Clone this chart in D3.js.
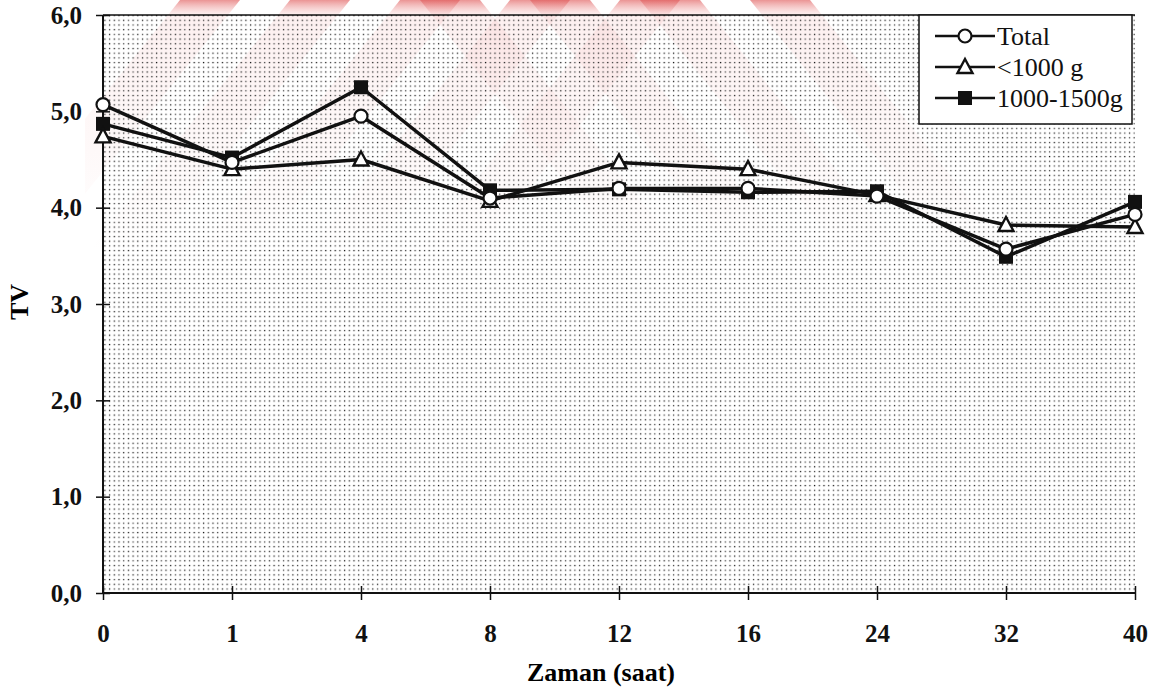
<!DOCTYPE html>
<html>
<head>
<meta charset="utf-8">
<script src="https://cdn.jsdelivr.net/npm/d3@7.9.0/dist/d3.min.js"></script>
<style>
  html, body { margin: 0; padding: 0; background: #fff; }
  svg { display: block; }
  text { font-family: "Liberation Serif", "Times New Roman", serif; }
</style>
</head>
<body>
<svg id="chart" width="1165" height="693"></svg>
<script>
// ── Data ──────────────────────────────────────────────────────────────────
const hours = ['0', '1', '4', '8', '12', '16', '24', '32', '40'];
const total = [5.07, 4.47, 4.95, 4.10, 4.20, 4.20, 4.12, 3.57, 3.93];
const under1000 = [4.74, 4.40, 4.50, 4.07, 4.47, 4.40, 4.13, 3.82, 3.80];
const g1000to1500 = [4.87, 4.52, 5.25, 4.18, 4.19, 4.16, 4.17, 3.49, 4.06];
const yTicks = [0, 1, 2, 3, 4, 5, 6];

const series = [
  { name: '1000-1500g', values: g1000to1500, marker: 'square' },
  { name: '<1000 g', values: under1000, marker: 'triangle' },
  { name: 'Total', values: total, marker: 'circle' },
];
const legendOrder = ['Total', '<1000 g', '1000-1500g'];

// ── Layout ────────────────────────────────────────────────────────────────
const FONT = '"Liberation Serif", "Times New Roman", serif';
const svg = d3.select('#chart');
const plotL = 103, plotR = 1135, plotT = 15, plotB = 593;

const x = d3.scalePoint().domain(hours).range([plotL, plotR]);
const y = d3.scaleLinear().domain([0, 6]).range([plotB, plotT]);
const fmt = (d) => d.toFixed(1).replace('.', ',');

const defs = svg.append('defs');

// dotted plot background
const pat = defs.append('pattern')
  .attr('id', 'dots')
  .attr('patternUnits', 'userSpaceOnUse')
  .attr('width', 9.4).attr('height', 9.4);
[[1.5, 1.5], [6.2, 6.2], [6.2, 1.5], [1.5, 6.2]].forEach(([cx, cy], i) => {
  pat.append('rect')
    .attr('x', cx - 0.65).attr('y', cy - 0.65)
    .attr('width', 1.3).attr('height', 1.3)
    .attr('fill', i < 2 ? '#1a1a1a' : '#444');
});

// faint watermark stripes (scanned page artefact)
const grad = defs.append('linearGradient')
  .attr('id', 'wm')
  .attr('gradientUnits', 'userSpaceOnUse')
  .attr('x1', 0).attr('y1', 0).attr('x2', 0).attr('y2', 250);
grad.append('stop').attr('offset', 0).attr('stop-color', '#e05a5a').attr('stop-opacity', 0.65);
grad.append('stop').attr('offset', 0.06).attr('stop-color', '#f3b4b4').attr('stop-opacity', 0.2);
grad.append('stop').attr('offset', 0.6).attr('stop-color', '#f7cccc').attr('stop-opacity', 0.12);
grad.append('stop').attr('offset', 1).attr('stop-color', '#f7cccc').attr('stop-opacity', 0);

defs.append('clipPath').attr('id', 'wmclip')
  .append('rect').attr('x', 85).attr('y', 0).attr('width', 1000).attr('height', 260);

const wm = svg.append('g').attr('fill', 'url(#wm)').attr('clip-path', 'url(#wmclip)');
const wmH = 250, slope = 0.8, band = 60;
for (let i = 0; i < 5; i++) {
  const x0 = -20 + i * 110;
  wm.append('polygon').attr('points',
    `${x0},${wmH} ${x0 + band},${wmH} ${x0 + band + wmH * slope},0 ${x0 + wmH * slope},0`);
}
for (let i = 0; i < 4; i++) {
  const x0 = 1010 - i * 110;
  wm.append('polygon').attr('points',
    `${x0},${wmH} ${x0 - band},${wmH} ${x0 - band - wmH * slope},0 ${x0 - wmH * slope},0`);
}

// plot area
svg.append('rect')
  .attr('x', plotL).attr('y', plotT)
  .attr('width', plotR - plotL).attr('height', plotB - plotT)
  .attr('fill', 'url(#dots)');

// top border
svg.append('line')
  .attr('x1', plotL).attr('x2', plotR)
  .attr('y1', plotT).attr('y2', plotT)
  .attr('stroke', '#111').attr('stroke-width', 1.5);

// ── Axes ──────────────────────────────────────────────────────────────────
const yAxis = svg.append('g').attr('transform', `translate(${plotL},0)`)
  .call(d3.axisLeft(y).tickValues(yTicks).tickFormat(fmt).tickSize(7).tickPadding(14));
yAxis.selectAll('.tick line').attr('x2', 7).attr('x1', -7);
yAxis.select('.domain').attr('d', `M0,${plotT}V${plotB}`);

const xAxis = svg.append('g').attr('transform', `translate(0,${plotB})`)
  .call(d3.axisBottom(x).tickSize(7).tickPadding(24));
xAxis.selectAll('.tick line').attr('y1', -7).attr('y2', 7);
xAxis.select('.domain').attr('d', `M${plotL},0H${plotR}`);

svg.selectAll('g').attr('font-family', FONT);
svg.selectAll('.domain').attr('stroke', '#111').attr('stroke-width', 2);
svg.selectAll('.tick line').attr('stroke', '#111').attr('stroke-width', 1.5);
svg.selectAll('.tick text')
  .attr('font-family', FONT)
  .attr('font-size', 25).attr('font-weight', 'bold').attr('fill', '#111');

svg.append('text')
  .attr('x', 601).attr('y', 681)
  .attr('text-anchor', 'middle')
  .attr('font-family', FONT)
  .attr('font-size', 26).attr('font-weight', 'bold')
  .text('Zaman (saat)');

svg.append('text')
  .attr('transform', `translate(28,302) rotate(-90)`)
  .attr('text-anchor', 'middle')
  .attr('font-family', FONT)
  .attr('font-size', 26).attr('font-weight', 'bold')
  .text('TV');

// ── Lines and markers ─────────────────────────────────────────────────────
const line = d3.line().x((d, i) => x(hours[i])).y((d) => y(d));

svg.append('g').selectAll('path')
  .data(series)
  .join('path')
  .attr('d', (s) => line(s.values))
  .attr('fill', 'none')
  .attr('stroke', '#111')
  .attr('stroke-width', 3.5)
  .attr('stroke-linejoin', 'round');

function drawMarker(g, type, cx, cy) {
  if (type === 'circle') {
    g.append('circle').attr('cx', cx).attr('cy', cy).attr('r', 6.5)
      .attr('fill', '#fff').attr('stroke', '#111').attr('stroke-width', 2.2);
  } else if (type === 'triangle') {
    g.append('path')
      .attr('d', `M${cx},${cy - 8}L${cx + 7.5},${cy + 6}L${cx - 7.5},${cy + 6}Z`)
      .attr('fill', '#fff').attr('stroke', '#111').attr('stroke-width', 2.4);
  } else {
    g.append('rect').attr('x', cx - 7).attr('y', cy - 7)
      .attr('width', 14).attr('height', 14).attr('fill', '#111');
  }
}

const markers = svg.append('g');
series.forEach((s) => {
  s.values.forEach((v, i) => drawMarker(markers, s.marker, x(hours[i]), y(v)));
});

// ── Legend ────────────────────────────────────────────────────────────────
const legend = svg.append('g');
legend.append('rect')
  .attr('x', 919).attr('y', plotT)
  .attr('width', 213).attr('height', 109)
  .attr('fill', '#fff').attr('stroke', '#111').attr('stroke-width', 1.5);

legendOrder.forEach((name, i) => {
  const s = series.find((d) => d.name === name);
  const ly = 36 + i * 31;
  legend.append('line')
    .attr('x1', 935).attr('x2', 995).attr('y1', ly).attr('y2', ly)
    .attr('stroke', '#111').attr('stroke-width', 2.5);
  drawMarker(legend, s.marker, 965, ly);
  legend.append('text')
    .attr('x', 997).attr('y', ly + 9)
    .attr('font-family', FONT)
    .attr('font-size', 26)
    .attr('fill', '#111')
    .text(name);
});
</script>
</body>
</html>
